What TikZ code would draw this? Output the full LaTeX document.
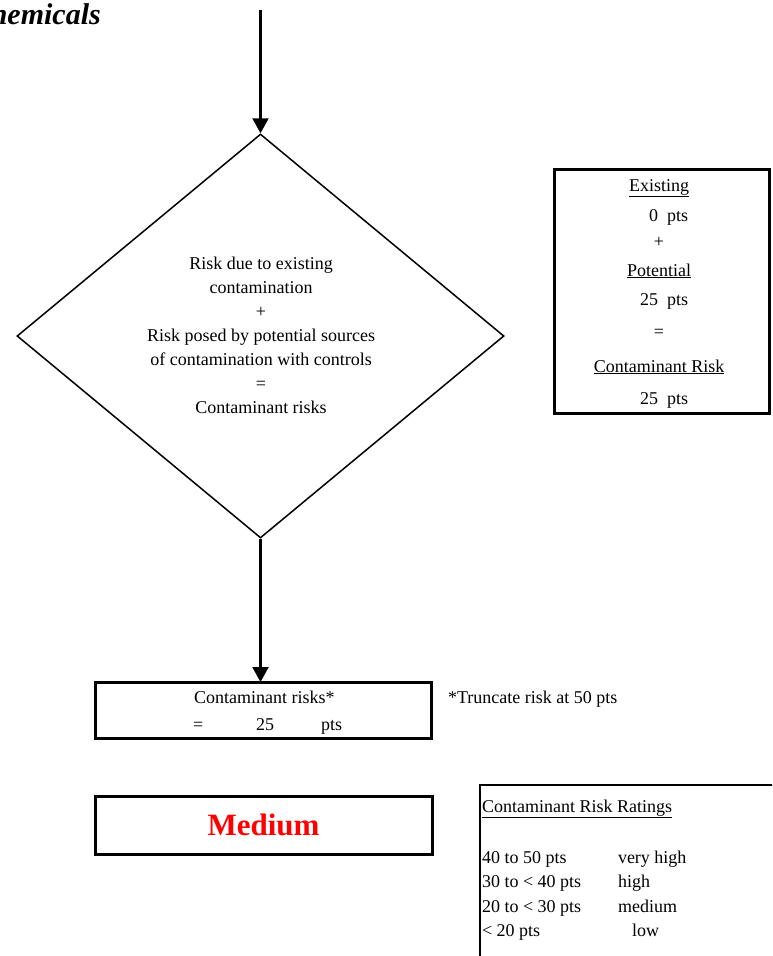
\documentclass[tikz,border=0pt]{standalone}
\usepackage{fontspec}
\setmainfont{Liberation Serif}
\usetikzlibrary{shapes.geometric,arrows.meta}
\definecolor{medred}{RGB}{255,0,0}
\begin{document}
\begin{tikzpicture}[x=1pt,y=-1pt,
  txt/.style={font=\fontsize{18}{24}\selectfont, inner sep=0pt, outer sep=0pt},
  thickbox/.style={draw, line width=3pt, inner sep=0pt, outer sep=0pt},
  conn/.style={line width=2.2pt, -{Triangle[length=15pt,width=16pt]}}]
\useasboundingbox (0,0) rectangle (772,956);
\clip (0,0) rectangle (772,956);
\fill[white] (0,0) rectangle (772,956);

% title (cut off at the left edge, as in the reference)
\node[anchor=base east, inner sep=0pt, font=\fontsize{30}{32}\selectfont\bfseries\itshape] (title) at (101,24) {Chemicals};

% diamond
\coordinate (start) at (260.5,10);
\node[diamond, draw, line width=1.5pt, aspect=1.2, minimum width=487pt, minimum height=404pt, inner sep=0pt] (dia) at (260.5,336) {};
\node[txt, align=center, anchor=north] (diatext) at (261,257) {Risk due to existing\\contamination\\+\\Risk posed by potential sources\\of contamination with controls\\=\\Contaminant risks};

% right summary box
\node[thickbox, minimum width=215pt, minimum height=244pt] (box2) at (661.5,291) {};
\node[txt, anchor=base] (ex) at (659,191) {\underline{Existing}};
\node[txt, anchor=base east] (exv) at (688,221) {0~~pts};
\node[txt, anchor=base] (plus) at (659,247) {+};
\node[txt, anchor=base] (pot) at (659,276) {\underline{Potential}};
\node[txt, anchor=base east] (potv) at (688,305) {25~~pts};
\node[txt, anchor=base] (eq) at (659,337) {=};
\node[txt, anchor=base] (cr) at (659,372) {\underline{Contaminant Risk}};
\node[txt, anchor=base east] (crv) at (688,404) {25~~pts};

% result box
\node[thickbox, minimum width=336pt, minimum height=56pt] (box1) at (263,710) {};
\node[txt, anchor=base west] (b1a) at (194,703) {Contaminant risks*};
\node[txt, anchor=base west] (b1b) at (193,730) {=};
\node[txt, anchor=base west] (b1c) at (256,730) {25};
\node[txt, anchor=base west] (b1d) at (321,730) {pts};
\node[txt, anchor=base west] (trunc) at (448,703) {*Truncate risk at 50 pts};

% medium box
\node[thickbox, minimum width=337pt, minimum height=58pt, font=\fontsize{31}{31}\selectfont\bfseries, text=medred] (medium) at (263.5,825) {Medium};

% ratings box (extends beyond the picture)
\node[draw, line width=2pt, inner sep=0pt, minimum width=320pt, minimum height=172pt, anchor=north west] (ratings) at (479,784) {};
\node[txt, anchor=base west] (rh) at (482,812) {\underline{Contaminant Risk Ratings}};
\node[txt, anchor=base west] (r1a) at (482,863) {40 to 50 pts};
\node[txt, anchor=base west] (r1b) at (618,863) {very high};
\node[txt, anchor=base west] (r2a) at (482,887) {30 to < 40 pts};
\node[txt, anchor=base west] (r2b) at (618,887) {high};
\node[txt, anchor=base west] (r3a) at (482,912) {20 to < 30 pts};
\node[txt, anchor=base west] (r3b) at (618,912) {medium};
\node[txt, anchor=base west] (r4a) at (482,936) {< 20 pts};
\node[txt, anchor=base west] (r4b) at (632,936) {low};

% connectors
\draw[conn] (start) -- (dia.north);
\draw[conn] (dia.south) -- (dia.south |- box1.north);
\end{tikzpicture}
\end{document}
